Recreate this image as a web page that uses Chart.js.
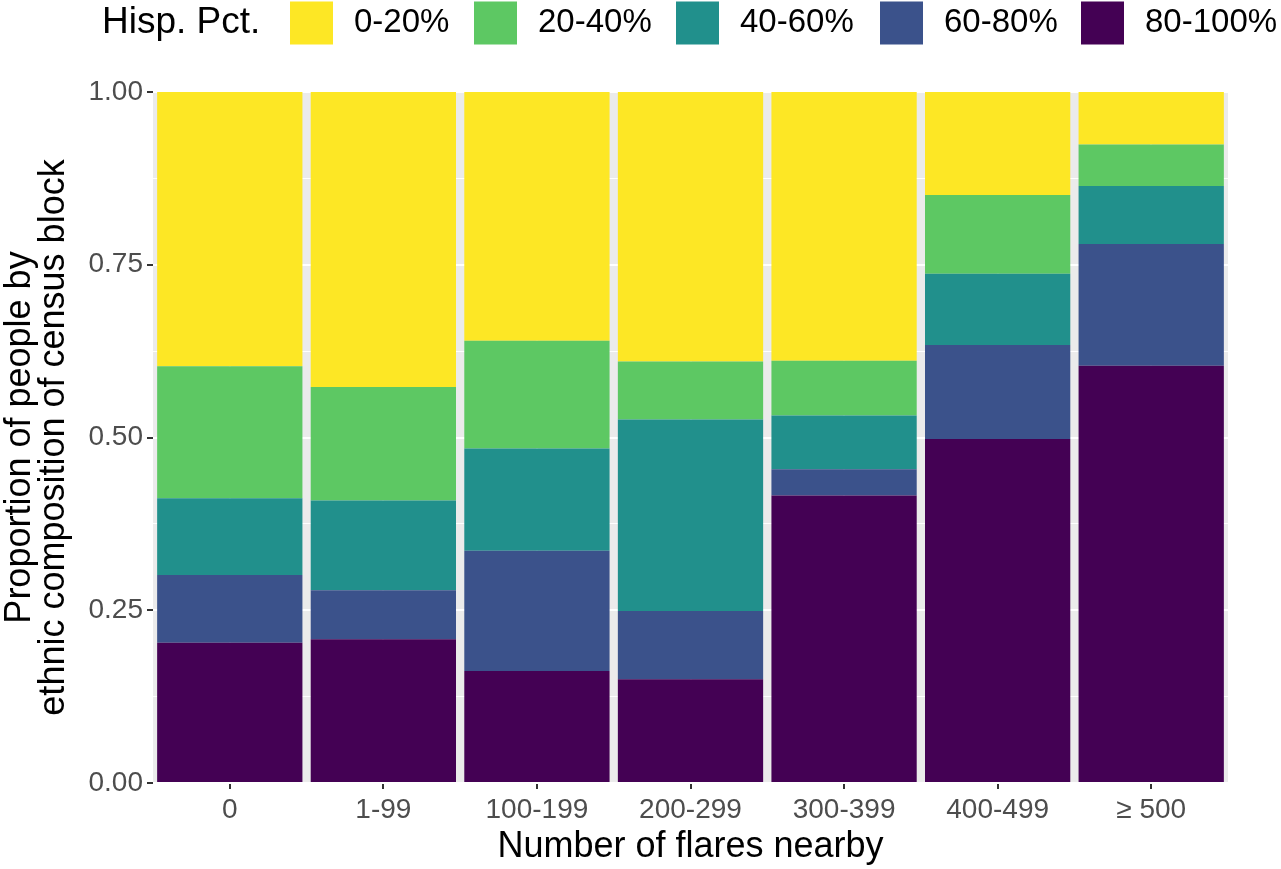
<!DOCTYPE html>
<html>
<head>
<meta charset="utf-8">
<script src="https://cdn.jsdelivr.net/npm/chart.js@4"></script>
<style>
  html, body { margin: 0; padding: 0; background: #ffffff; }
  #wrap { width: 1281px; height: 869px; }
</style>
</head>
<body>
<div id="wrap"><canvas id="c" width="1281" height="869"></canvas></div>
<script>
// ---- Data ----
const categories = ['0', '1-99', '100-199', '200-299', '300-399', '400-499', '\u2265 500'];
const legendTitle = 'Hisp. Pct.';
const groupLabels = ['0-20%', '20-40%', '40-60%', '60-80%', '80-100%'];
const groupColors = ['#FDE725', '#5DC863', '#21908C', '#3B528B', '#440154'];

const pct80to100 = [0.203, 0.208, 0.162, 0.150, 0.416, 0.498, 0.604];
const pct60to80  = [0.098, 0.071, 0.174, 0.099, 0.038, 0.136, 0.176];
const pct40to60  = [0.111, 0.130, 0.148, 0.277, 0.078, 0.103, 0.084];
const pct20to40  = [0.191, 0.164, 0.156, 0.084, 0.079, 0.114, 0.060];
const pct0to20   = [0.397, 0.427, 0.360, 0.390, 0.389, 0.149, 0.076];

const yTickLabels = ['0.00', '0.25', '0.50', '0.75', '1.00'];
const xTitle = 'Number of flares nearby';
const yTitle = ['Proportion of people by', 'ethnic composition of census block'];

// stacked bottom -> top
const seriesInStackOrder = [
  { label: groupLabels[4], data: pct80to100, color: groupColors[4] },
  { label: groupLabels[3], data: pct60to80,  color: groupColors[3] },
  { label: groupLabels[2], data: pct40to60,  color: groupColors[2] },
  { label: groupLabels[1], data: pct20to40,  color: groupColors[1] },
  { label: groupLabels[0], data: pct0to20,   color: groupColors[0] }
];

const FONT = "'Liberation Sans', Arial, sans-serif";

const panelBg = {
  id: 'panelBg',
  beforeDraw(chart) {
    const { ctx, chartArea: a } = chart;
    ctx.save();
    ctx.fillStyle = '#EBEBEB';
    ctx.fillRect(a.left, a.top, a.right - a.left, a.bottom - a.top);
    ctx.restore();
  }
};

const legendKeyX = [290, 474, 676, 880, 1081];
const topLegend = {
  id: 'topLegend',
  afterDraw(chart) {
    const ctx = chart.ctx;
    ctx.save();
    const cy = 23;
    ctx.textBaseline = 'middle';
    ctx.textAlign = 'left';
    ctx.fillStyle = '#000000';
    ctx.font = '37px ' + FONT;
    ctx.fillText(legendTitle, 102, cy);
    ctx.font = '33px ' + FONT;
    for (let i = 0; i < groupLabels.length; i++) {
      const x = legendKeyX[i];
      ctx.fillStyle = groupColors[i];
      ctx.fillRect(x, cy - 21.5, 43, 43);
      ctx.fillStyle = '#000000';
      ctx.fillText(groupLabels[i], x + 64, cy);
    }
    ctx.restore();
  }
};

const isMajor = v => Math.abs(v * 4 - Math.round(v * 4)) < 1e-6;

new Chart(document.getElementById('c'), {
  type: 'bar',
  data: {
    labels: categories,
    datasets: seriesInStackOrder.map(s => ({
      label: s.label,
      data: s.data,
      backgroundColor: s.color,
      borderWidth: 0,
      barPercentage: 0.946,
      categoryPercentage: 1.0
    }))
  },
  options: {
    responsive: false,
    animation: false,
    devicePixelRatio: 1,
    layout: { padding: { top: 92, right: 53, left: 0, bottom: 0 } },
    plugins: { legend: { display: false }, tooltip: { enabled: false }, title: { display: false } },
    scales: {
      x: {
        stacked: true,
        offset: true,
        border: { display: false },
        grid: { offset: false, color: '#FFFFFF', lineWidth: 2, tickLength: 6, tickColor: '#333333', tickWidth: 2 },
        ticks: { color: '#4D4D4D', font: { family: FONT, size: 28 }, padding: 4, maxRotation: 0, autoSkip: false },
        title: { display: true, text: xTitle, color: '#000000', font: { family: FONT, size: 36, lineHeight: 1.2 }, padding: { top: 0, bottom: 0 } },
        afterFit(scale) { scale.height = 86; }
      },
      y: {
        stacked: true,
        min: 0,
        max: 1,
        border: { display: false },
        grid: {
          color: '#FFFFFF',
          lineWidth: c => (c.tick && isMajor(c.tick.value)) ? 2 : 1,
          tickLength: 6,
          tickWidth: 2,
          tickColor: c => (c.tick && isMajor(c.tick.value)) ? '#333333' : 'rgba(0,0,0,0)'
        },
        ticks: {
          stepSize: 0.125,
          autoSkip: false,
          color: '#4D4D4D',
          font: { family: FONT, size: 28 },
          padding: 4,
          callback: v => isMajor(v) ? yTickLabels[Math.round(v * 4)] : ''
        },
        title: { display: true, text: yTitle, color: '#000000', font: { family: FONT, size: 36, lineHeight: 0.95 }, padding: { top: 3, bottom: 0 } },
        afterFit(scale) { scale.width = 153; }
      }
    }
  },
  plugins: [panelBg, topLegend]
});
</script>
</body>
</html>
